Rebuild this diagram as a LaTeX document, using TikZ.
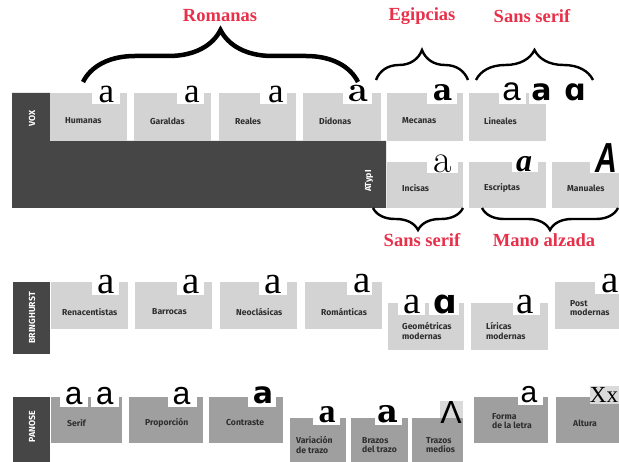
\documentclass[tikz,border=0pt]{standalone}
\usepackage{fontspec}
\usetikzlibrary{decorations.pathreplacing}
\newfontfamily\lblfont{Fira Sans}
\newfontfamily\serifB{Liberation Serif}
\newfontfamily\arialf{Liberation Sans}
\newfontfamily\dvsans{DejaVu Sans}
\newfontfamily\dvserif{DejaVu Serif}
\newfontfamily\courf{Liberation Mono}
\definecolor{darkbg}{HTML}{464646}
\definecolor{lightbox}{HTML}{D3D3D3}
\definecolor{midbox}{HTML}{9F9F9F}
\definecolor{glyphbg}{HTML}{DADADA}
\definecolor{redlbl}{HTML}{E8304A}
\definecolor{txtc}{HTML}{2E2E2E}
\begin{document}
\begin{tikzpicture}[x=1pt,y=-1pt,
 lbl/.style={font=\lblfont\bfseries\fontsize{8.6}{9.8}\selectfont, text=txtc, anchor=west, inner sep=0pt, align=left},
 side/.style={font=\lblfont\bfseries\fontsize{8.8}{10}\selectfont, text=white, rotate=90, inner sep=0pt},
 redl/.style={font=\serifB\bfseries\fontsize{18.5}{20}\selectfont, text=redlbl, inner sep=0pt},
 gl/.style={anchor=base, inner sep=0pt, text=black},
 sa/.style={gl, font=\serifB\fontsize{35}{35}\selectfont},
 sb/.style={gl, font=\serifB\fontsize{39}{39}\selectfont},
 lbox/.style={fill=lightbox},
 pbox/.style={fill=midbox},
 notch/.style={fill=white},
 gbg/.style={fill=glyphbg},
 dark/.style={fill=darkbg},
 bigbrace/.style={decorate, decoration={brace, amplitude=52pt}, line width=4.5pt},
 topbrace/.style={decorate, decoration={brace, amplitude=30pt}, line width=2.4pt},
 botbrace/.style={decorate, decoration={brace, mirror, amplitude=22pt}, line width=2.4pt},
]
\useasboundingbox (0,0) rectangle (619,462);
\fill[white] (0,0) rectangle (619,462);

% ---------------- VOX / ATypI ----------------
\fill[dark] (12,93) -- (50,93) -- (50,141) -- (386,141) -- (386,208) -- (12,208) -- cycle;
\node[side] (vox) at (32,118) {VOX};
\node[side] (atypi) at (369,181) {ATypI};

\fill[lbox] (50,93) rectangle (127,141);   \fill[notch] (92,93) rectangle (120,104);
\fill[lbox] (134,93) rectangle (211,141);  \fill[notch] (177,93) rectangle (204,104);
\fill[lbox] (219,93) rectangle (296,141);  \fill[notch] (260,93) rectangle (287,104);
\fill[lbox] (303,93) rectangle (381,141);  \fill[notch] (343,93) rectangle (372,104);
\fill[lbox] (387,93) rectangle (463,141);  \fill[notch] (427,93) rectangle (457,104);
\fill[lbox] (469,93) rectangle (546,141);  \fill[notch] (499,93) rectangle (526,104);
\fill[notch] (529,93) rectangle (546,104);

\node[lbl] (humanas) at (65,121) {Humanas};
\node[lbl] (garaldas) at (150,121) {Garaldas};
\node[lbl] (reales) at (235,121) {Reales};
\node[lbl] (didonas) at (319,121) {Didonas};
\node[lbl] (mecanas) at (402,121) {Mecanas};
\node[lbl] (lineales) at (484,121) {Lineales};

\node[sa] (g-hum) at (106.5,103) {a};
\node[sa] (g-gar) at (192,103) {a};
\node[sa] (g-rea) at (276,103) {a};
\node[gl, font=\bfseries\fontsize{36}{36}\selectfont] (g-did) at (358.5,102) {a};
\node[gl, font=\dvserif\bfseries\fontsize{30}{30}\selectfont] (g-mec) at (442.5,101) {a};
\node[gl, font=\arialf\fontsize{33}{33}\selectfont] (g-lin1) at (511.5,101) {a};
\node[gl, font=\dvsans\bfseries\fontsize{30}{30}\selectfont] (g-lin2) at (541.5,101) {a};
\node[gl, font=\dvsans\bfseries\fontsize{30}{30}\selectfont] (g-lin3) at (575,101) {ɑ};

\fill[lbox] (387,162) rectangle (463,208);  \fill[notch] (427,162) rectangle (458,173);
\fill[lbox] (469,162) rectangle (546,208);  \fill[notch] (512,162) rectangle (538,172);
\fill[lbox] (552,162) rectangle (619,208);  \fill[notch] (590,162) rectangle (619,173);

\node[lbl] (incisas) at (402,188) {Incisas};
\node[lbl] (escriptas) at (484,188) {Escriptas};
\node[lbl] (manuales) at (567,188) {Manuales};

\node[gl, font=\fontsize{40}{40}\selectfont] (g-inc) at (442.5,173) {a};
\node[gl, font=\serifB\bfseries\itshape\fontsize{32}{32}\selectfont] (g-esc) at (524,172) {a};
\node[gl, font=\arialf\bfseries\itshape\fontsize{42}{42}\selectfont, xscale=0.72] (g-man) at (606,173) {A};

% braces and red labels (top)
\coordinate (rom-l) at (83,82);  \coordinate (rom-r) at (358,82);
\coordinate (egi-l) at (376,80); \coordinate (egi-r) at (468,80);
\coordinate (sst-l) at (476,80); \coordinate (sst-r) at (593,80);
\draw[bigbrace] (rom-l) -- (rom-r);
\draw[topbrace] (egi-l) -- (egi-r);
\draw[topbrace] (sst-l) -- (sst-r);
\node[redl] (romanas) at (220,16) {Romanas};
\node[redl] (egipcias) at (422,16) {Egipcias};
\node[redl] (sansserif1) at (532,16) {Sans serif};

% braces and red labels (bottom)
\coordinate (ssb-l) at (373,208); \coordinate (ssb-r) at (463,208);
\coordinate (man-l) at (482,208); \coordinate (man-r) at (618,208);
\draw[botbrace] (ssb-l) -- (ssb-r);
\draw[botbrace] (man-l) -- (man-r);
\node[redl] (sansserif2) at (422,240) {Sans serif};
\node[redl] (manoalzada) at (544,240) {Mano alzada};

% ---------------- BRINGHURST ----------------
\fill[dark] (13,282) rectangle (50,354);
\node[side] (bringhurst) at (32,318) {BRINGHURST};

\fill[lbox] (51,282) rectangle (128,329);  \fill[notch] (92,282) rectangle (119,295);
\fill[lbox] (135,282) rectangle (212,329); \fill[notch] (177,282) rectangle (204,295);
\fill[lbox] (220,282) rectangle (297,329); \fill[notch] (259,282) rectangle (287,295);
\fill[lbox] (305,282) rectangle (382,329); \fill[notch] (347,282) rectangle (372,295);
\fill[lbox] (388,303) rectangle (464,350); \fill[notch] (398,303) rectangle (425,315);
\fill[notch] (429,303) rectangle (459,315);
\fill[lbox] (471,303) rectangle (548,350); \fill[notch] (513,303) rectangle (540,315);
\fill[lbox] (555,282) rectangle (619,329); \fill[notch] (595,282) rectangle (619,294);

\node[lbl] (renacentistas) at (62,312) {Renacentistas};
\node[lbl] (barrocas) at (152,312) {Barrocas};
\node[lbl] (neoclasicas) at (236,312) {Neoclásicas};
\node[lbl] (romanticas) at (321,312) {Románticas};
\node[lbl] (geometricas) at (402,331) {Geométricas\\modernas};
\node[lbl] (liricas) at (486,331) {Líricas\\modernas};
\node[lbl] (postmod) at (570,308) {Post\\modernas};

\node[sb] (g-ren) at (106.5,294) {a};
\node[sb] (g-bar) at (191.5,294) {a};
\node[sb] (g-neo) at (273.5,294) {a};
\node[sb] (g-rom) at (362.5,293) {a};
\node[sb] (g-geo1) at (412.5,314) {a};
\node[gl, font=\dvsans\bfseries\fontsize{33}{33}\selectfont] (g-geo2) at (445,314) {ɑ};
\node[sb] (g-lir) at (525.5,314) {a};
\node[sb] (g-post) at (610,293) {a};

% ---------------- PANOSE ----------------
\fill[dark] (13,397) rectangle (50,462);
\node[side] (panose) at (32,427) {PANOSE};

\fill[pbox] (51,397) rectangle (122,443);  \fill[notch] (60,397) rectangle (88,407);
\fill[notch] (91,397) rectangle (119,407);
\fill[pbox] (129,397) rectangle (203,443); \fill[notch] (168,397) rectangle (197,407);
\fill[pbox] (209,397) rectangle (283,443); \fill[notch] (248,397) rectangle (276,407);
\fill[pbox] (290,418) rectangle (346,462); \fill[notch] (313,418) rectangle (340,425);
\fill[pbox] (351,418) rectangle (408,462); \fill[notch] (375,418) rectangle (402,425);
\fill[pbox] (412,418) rectangle (463,462); \fill[gbg] (440,401) rectangle (463,418);
\fill[pbox] (474,397) rectangle (548,443); \fill[notch] (518,397) rectangle (543,405);
\fill[pbox] (556,397) rectangle (619,443); \fill[gbg] (590,386) rectangle (619,404);

\node[lbl] (serif) at (67,423) {Serif};
\node[lbl] (proporcion) at (145,423) {Proporción};
\node[lbl] (contraste) at (226,423) {Contraste};
\node[lbl] (variacion) at (296,445) {Variación\\de trazo};
\node[lbl] (brazos) at (362,445) {Brazos\\del trazo};
\node[lbl] (trazos) at (426,445) {Trazos\\medios};
\node[lbl] (forma) at (492,421) {Forma\\de la letra};
\node[lbl] (altura) at (573,423) {Altura};

\node[gl, font=\courf\fontsize{32}{32}\selectfont] (g-ser1) at (74,405) {a};
\node[gl, font=\courf\fontsize{32}{32}\selectfont] (g-ser2) at (105,405) {a};
\node[gl, font=\arialf\fontsize{32}{32}\selectfont] (g-pro) at (181.5,405) {a};
\node[gl, font=\dvsans\bfseries\fontsize{30}{30}\selectfont] (g-con) at (263,404) {a};
\node[gl, font=\serifB\bfseries\fontsize{34}{34}\selectfont] (g-var) at (327,423) {a};
\node[gl, font=\dvserif\bfseries\fontsize{32}{32}\selectfont] (g-bra) at (388,423) {a};
\node[gl, font=\arialf\fontsize{32}{32}\selectfont] (g-tra) at (451,424) {Λ};
\node[gl, font=\arialf\fontsize{30}{30}\selectfont] (g-for) at (529,403) {a};
\node[gl, font=\serifB\fontsize{23}{23}\selectfont] (g-alt) at (604,403) {Xx};
\end{tikzpicture}
\end{document}
